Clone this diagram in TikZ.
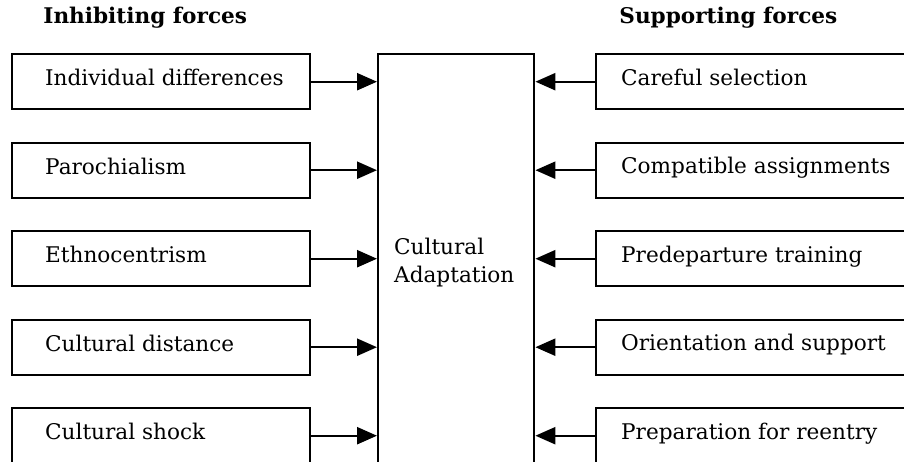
\documentclass[tikz,border=0pt]{standalone}
\usepackage{fontspec}
\setmainfont{DejaVu Serif}
\usetikzlibrary{arrows.meta,positioning}
\begin{document}
\begin{tikzpicture}[x=0.5pt,y=-0.5pt,
  every node/.style={font=\fontsize{10.8}{14}\selectfont},
  leftbox/.style={draw,line width=1.2pt,anchor=north west,minimum height=27.5pt,
    inner xsep=16.5pt,inner ysep=0pt,text height=8pt,text depth=3.8pt},
  rightbox/.style={draw,line width=1.2pt,anchor=north west,minimum height=27.5pt,
    inner xsep=12.5pt,inner ysep=0pt,text height=8pt,text depth=4.3pt},
  centerbox/.style={draw,line width=1.2pt,anchor=north west,minimum height=208.5pt,
    minimum width=78pt,inner xsep=8pt,text width=62pt,align=left},
  heading/.style={anchor=base west,inner sep=0pt,font=\fontsize{10.8}{13}\selectfont\bfseries},
  arr/.style={line width=1.2pt,-{Triangle[length=10pt,width=8.5pt]}}]
\useasboundingbox (0,0) rectangle (904,461);
\clip (0,0) rectangle (904,461);
\fill[white] (0,0) rectangle (904,461);
\node[heading] (hl) at (43,23) {Inhibiting forces};
\node[heading] (hr) at (619,23) {Supporting forces};
\node[centerbox] (C) at (377,53) {Cultural\\Adaptation};
\foreach \i/\t in {1/Individual differences,2/Parochialism,3/Ethnocentrism,4/Cultural distance,5/Cultural shock}{
  \node[leftbox] (L\i) at (11,{53+88.5*(\i-1)}) {\makebox[116pt][l]{\t}};
  \draw[arr] (L\i.east) -- (C.west |- L\i.east);
}
\foreach \i/\t in {1/Careful selection,2/Compatible assignments,3/Predeparture training,4/Orientation and support,5/Preparation for reentry}{
  \node[rightbox] (R\i) at (595,{53+88.5*(\i-1)}) {\makebox[140pt][l]{\t}};
  \draw[arr] (R\i.west) -- (C.east |- R\i.west);
}
\end{tikzpicture}
\end{document}
